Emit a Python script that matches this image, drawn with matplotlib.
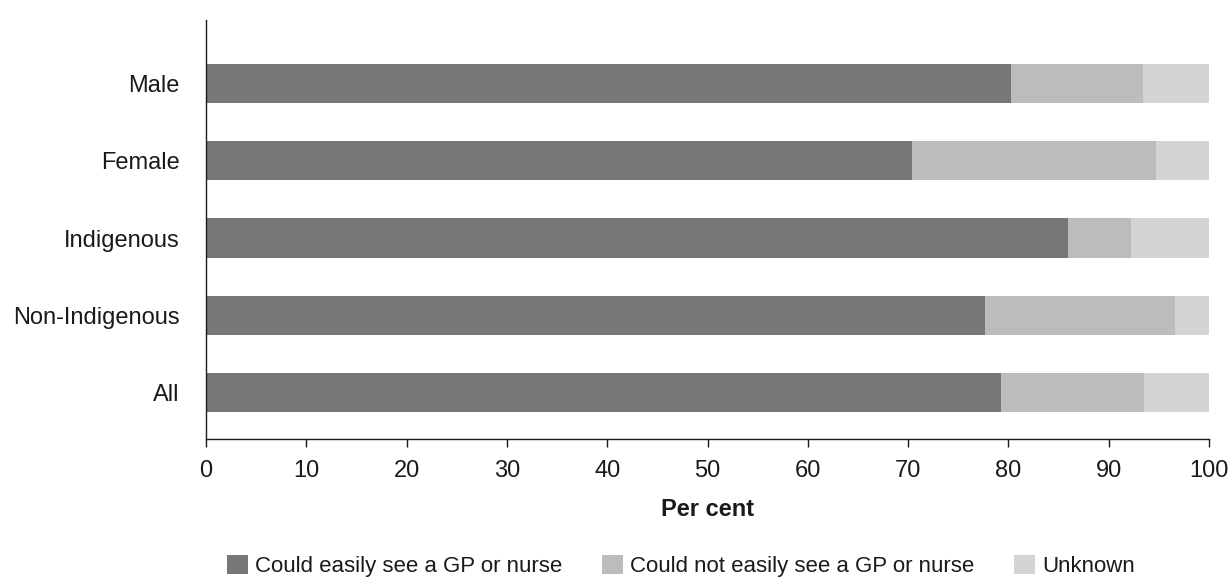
import matplotlib.pyplot as plt
from matplotlib.patches import Patch

plt.rcParams['font.family'] = ['Liberation Sans', 'DejaVu Sans']

groups = ["Male", "Female", "Indigenous", "Non-Indigenous", "All"]
easily = [80.3, 70.4, 85.9, 77.7, 79.3]
not_easily = [13.1, 24.3, 6.3, 18.9, 14.2]
unknown = [6.6, 5.3, 7.8, 3.4, 6.5]

series = ["Could easily see a GP or nurse", "Could not easily see a GP or nurse", "Unknown"]
colors = ["#777777", "#bcbcbc", "#d4d4d4"]

fig = plt.figure(figsize=(12.29, 5.79), dpi=100)
ax = fig.add_axes([206 / 1229, 1 - 439 / 579, 1003 / 1229, 419 / 579])

ypos = list(range(len(groups)))
left = [0.0] * len(groups)
for vals, col in zip([easily, not_easily, unknown], colors):
    ax.barh(ypos, vals, left=left, height=0.51, color=col, edgecolor="none")
    left = [a + b for a, b in zip(left, vals)]

ax.set_xlim(0, 100)
ax.set_ylim(4.6, -0.82)
ax.set_yticks(ypos)
ax.set_yticklabels(groups)
ax.set_xticks(range(0, 101, 10))

for s in ["top", "right"]:
    ax.spines[s].set_visible(False)
for s in ["left", "bottom"]:
    ax.spines[s].set_color("#1a1a1a")
    ax.spines[s].set_linewidth(1.0)

ax.tick_params(axis="y", length=0, pad=19, labelsize=17, colors="#1a1a1a")
ax.tick_params(axis="x", length=6, width=1, direction="out", pad=9,
               labelsize=17, colors="#1a1a1a")
ax.set_xlabel("Per cent", fontsize=17, fontweight="bold", color="#1a1a1a", labelpad=12)

handles = [Patch(facecolor=c, edgecolor="none") for c in colors]
fig.legend(handles, series, loc="center", bbox_to_anchor=(681 / 1229, 1 - 566 / 579),
           ncol=3, frameon=False, fontsize=16, handlelength=0.95, handleheight=0.95,
           handletextpad=0.3, columnspacing=1.8, labelcolor="#1a1a1a",
           borderpad=0, borderaxespad=0)

fig.savefig("out.png", dpi=100)
